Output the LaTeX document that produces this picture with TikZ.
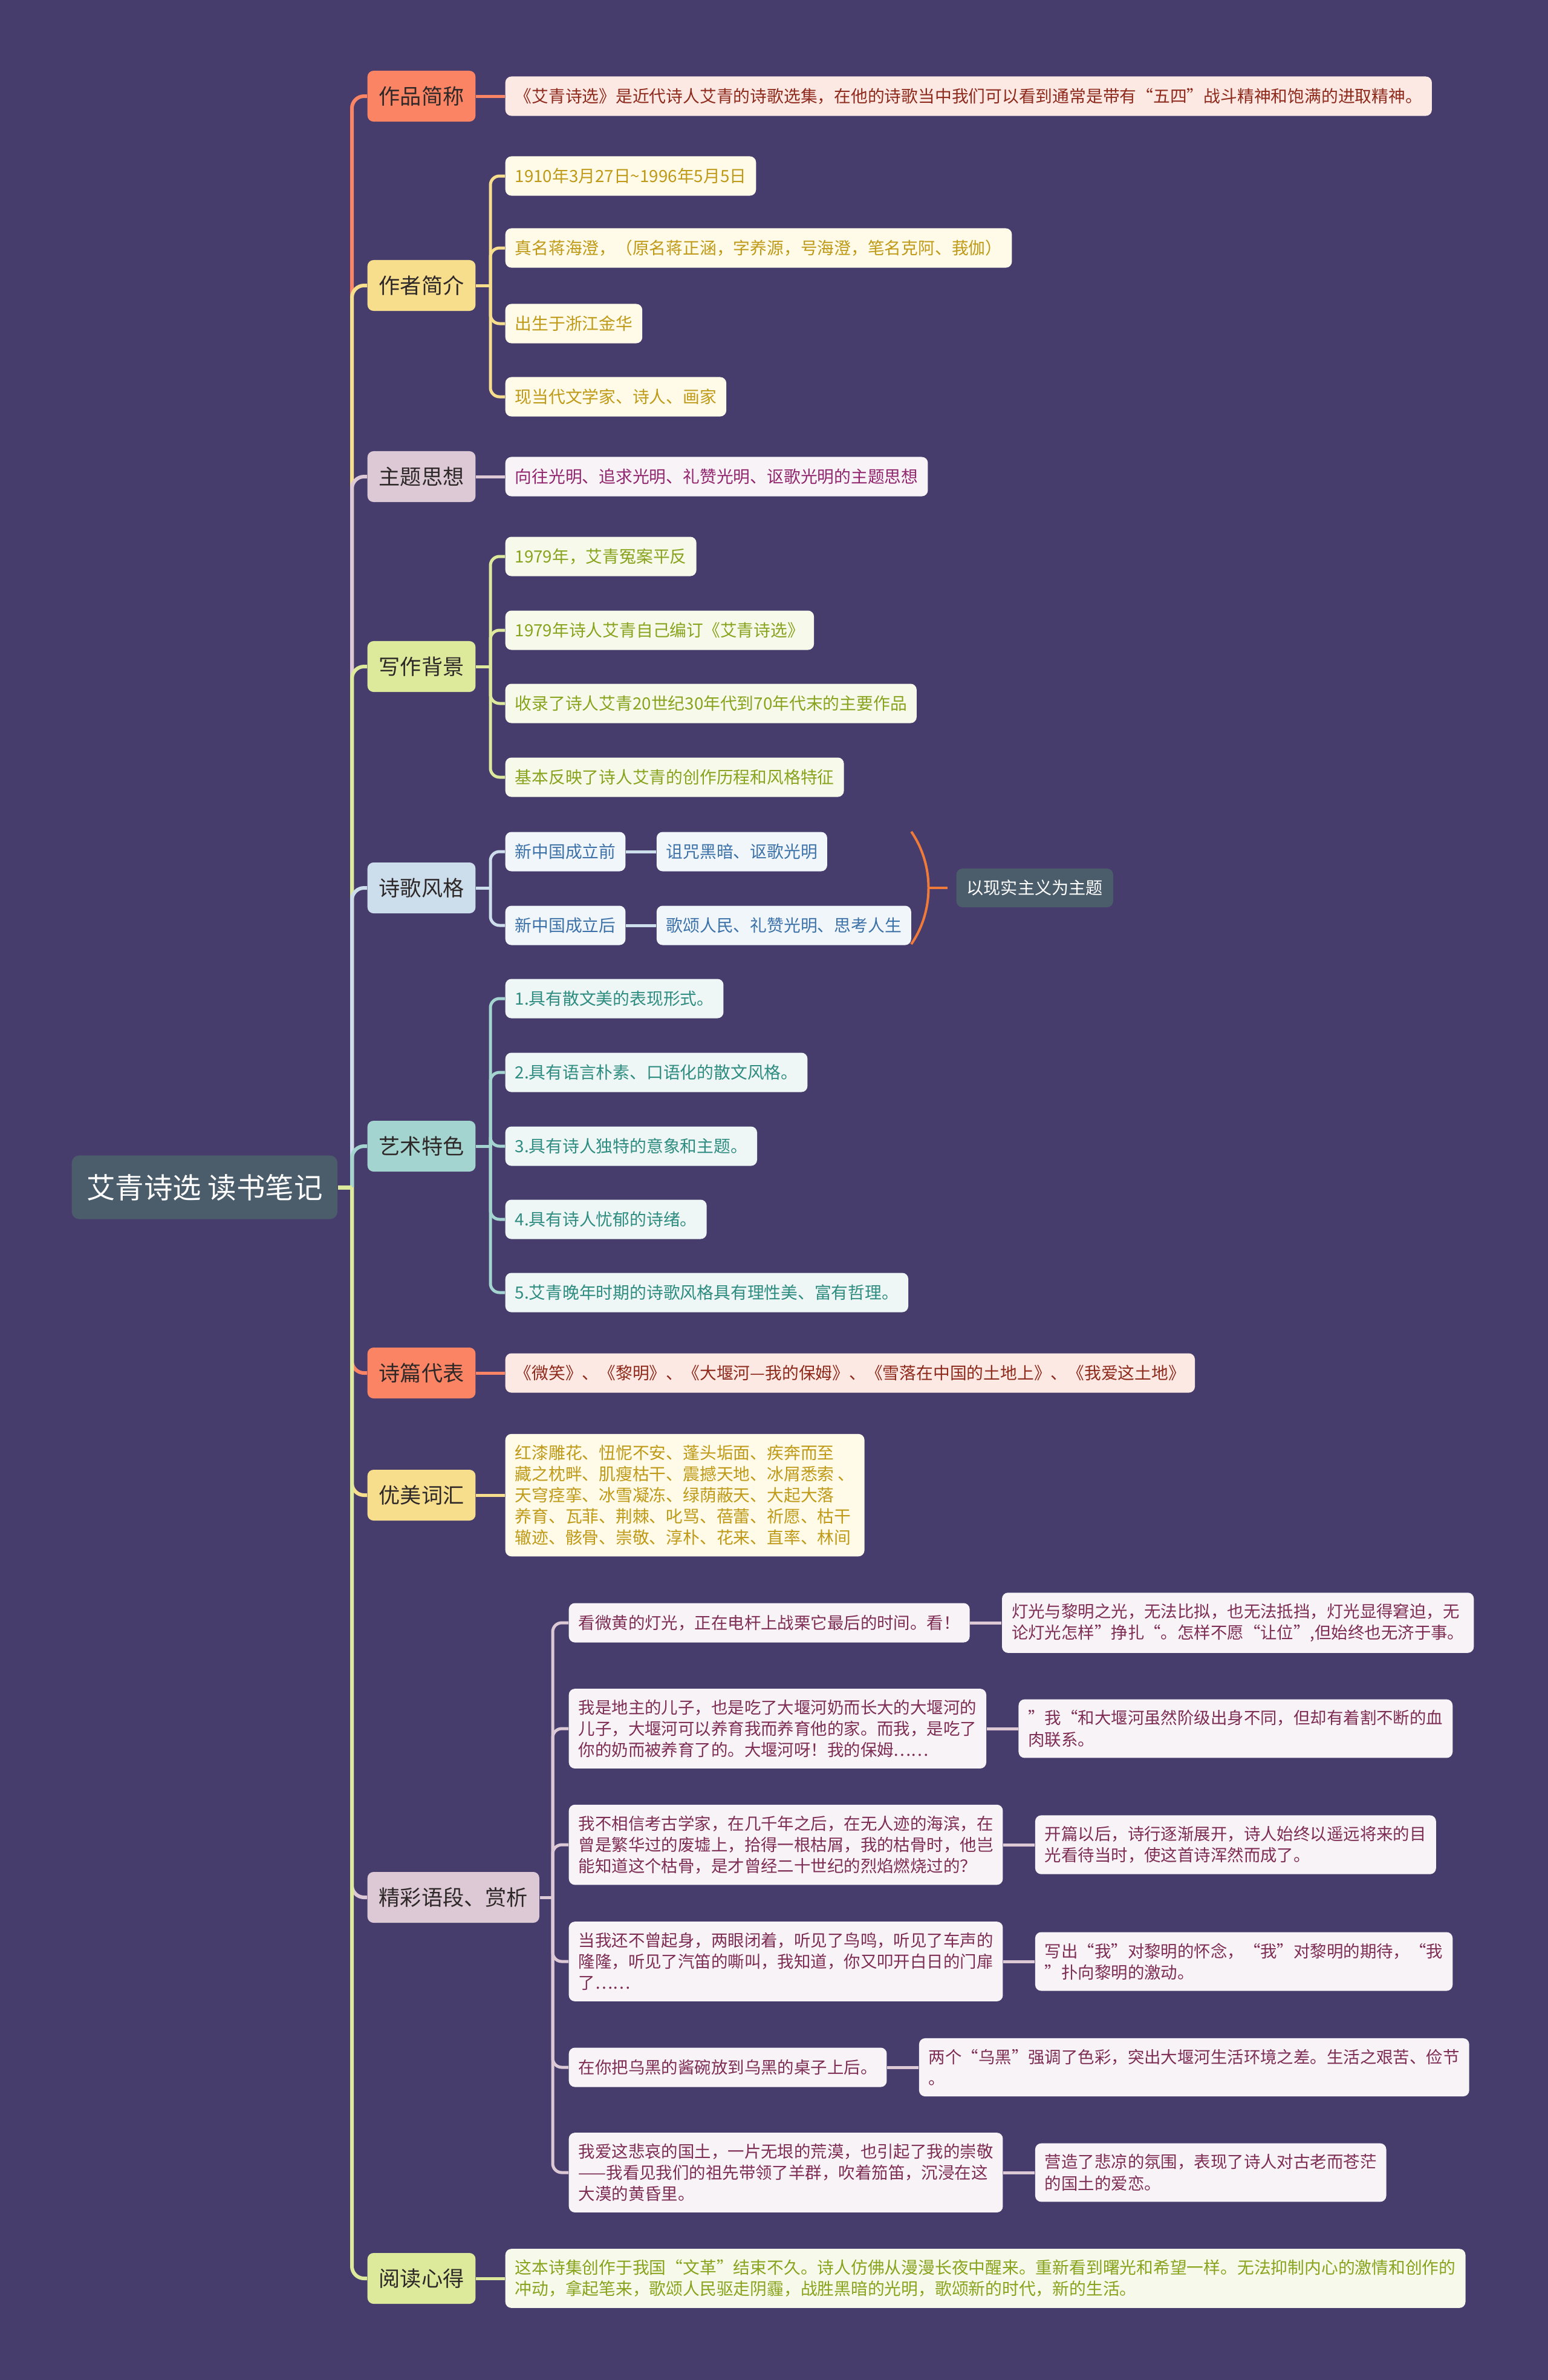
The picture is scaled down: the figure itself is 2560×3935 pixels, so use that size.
\documentclass[tikz,border=0pt]{standalone}
\usepackage{fontspec}
\setmainfont{Noto Sans CJK SC}
\usetikzlibrary{positioning}
\definecolor{bgcol}{HTML}{463D6D}
\definecolor{slate}{HTML}{4B5D6B}
\definecolor{coral}{HTML}{FA8463}
\definecolor{gold}{HTML}{F6DE8D}
\definecolor{mauve}{HTML}{DCC9D5}
\definecolor{lime}{HTML}{DDEA9B}
\definecolor{skyblue}{HTML}{CCDDEB}
\definecolor{teal}{HTML}{A3D4CF}
\definecolor{bracecol}{HTML}{F07A3A}
\definecolor{topictext}{HTML}{2E2828}
\definecolor{pinkfill}{HTML}{FDE9E4}
\definecolor{redtext}{HTML}{8E2A1C}
\definecolor{creamfill}{HTML}{FFFBE8}
\definecolor{goldtext}{HTML}{BF9A18}
\definecolor{plumfill}{HTML}{F8F3F6}
\definecolor{plumtext}{HTML}{7E2D55}
\definecolor{limefill}{HTML}{F7FAEA}
\definecolor{limetext}{HTML}{88A31E}
\definecolor{bluefill}{HTML}{F1F6FB}
\definecolor{bluetext}{HTML}{3D72A8}
\definecolor{tealfill}{HTML}{EEF7F5}
\definecolor{tealtext}{HTML}{2E8C80}

\begin{document}
\begin{tikzpicture}[x=0.01cm, y=-0.01cm,
	rootbox/.style={fill=slate, text=white, rounded corners=0.12cm, anchor=west, minimum width=4.39cm, minimum height=1.05cm, font=\fontsize{13.5}{15}\selectfont},
	topic/.style={fill=#1, text=topictext, rounded corners=0.1cm, anchor=west, inner xsep=0.19cm, minimum height=0.84cm, font=\fontsize{10}{12}\selectfont},
	leaf/.style={rounded corners=0.1cm, anchor=west, align=left, inner xsep=0.16cm, inner ysep=0.18cm, minimum height=0.65cm, font=\fontsize{7.9}{10}\selectfont},
	redleaf/.style={leaf, fill=pinkfill, text=redtext},
	goldleaf/.style={leaf, fill=creamfill, text=goldtext},
	plumleaf/.style={leaf, fill=plumfill, text=plumtext},
	limeleaf/.style={leaf, fill=limefill, text=limetext},
	blueleaf/.style={leaf, fill=bluefill, text=bluetext},
	tealleaf/.style={leaf, fill=tealfill, text=tealtext},
	quoteleaf/.style={plumleaf, font=\fontsize{7.8}{10}\selectfont},
	branch/.style={draw=#1, line width=0.06cm, rounded corners=0.2cm},
	twig/.style={draw=#1, line width=0.05cm, rounded corners=0.15cm}]

	% background and page size
	\fill[bgcol] (0,0) rectangle (2560,3935);
	\useasboundingbox (0,0) rectangle (2560,3935);

	% root
	\node[rootbox] (root) at (118,1963) {艾青诗选 读书笔记};
	\coordinate (trunk) at (582,1963);

	% main topics
	\node[topic=coral] (jc) at (607,159) {作品简称};
	\node[topic=gold] (zz) at (607,472) {作者简介};
	\node[topic=mauve] (zt) at (607,788) {主题思想};
	\node[topic=lime] (bj) at (607,1102) {写作背景};
	\node[topic=skyblue] (fg) at (607,1468) {诗歌风格};
	\node[topic=teal] (ts) at (607,1895) {艺术特色};
	\node[topic=coral] (db) at (607,2270) {诗篇代表};
	\node[topic=gold] (ch) at (607,2472) {优美词汇};
	\node[topic=mauve] (yd) at (607,3137) {精彩语段、赏析};
	\node[topic=lime] (xd) at (607,3767) {阅读心得};

	\draw[branch=coral] (trunk) |- (jc.west);
	\draw[branch=gold] (trunk) |- (zz.west);
	\draw[branch=mauve] (trunk) |- (zt.west);
	\draw[branch=lime] (trunk) |- (bj.west);
	\draw[branch=skyblue] (trunk) |- (fg.west);
	\draw[branch=teal] (trunk) |- (ts.west);
	\draw[branch=coral] (trunk) |- (db.west);
	\draw[branch=gold] (trunk) |- (ch.west);
	\draw[branch=mauve] (trunk) |- (yd.west);
	\draw[branch=lime] (trunk) |- (xd.west);
	\draw[lime, line width=0.07cm] (root.east) -- (trunk);

	% 作品简称
	\node[redleaf] (jc1) at (835,159) {《艾青诗选》是近代诗人艾青的诗歌选集，在他的诗歌当中我们可以看到通常是带有“五四”战斗精神和饱满的进取精神。};
	\draw[twig=coral] (jc.east) -- (jc1.west);

	% 作者简介
	\node[goldleaf] (zz1) at (835,291) {1910年3月27日\textasciitilde 1996年5月5日};
	\node[goldleaf] (zz2) at (835,410) {真名蒋海澄，（原名蒋正涵，字养源，号海澄，笔名克阿、莪伽）};
	\node[goldleaf] (zz3) at (835,535) {出生于浙江金华};
	\node[goldleaf] (zz4) at (835,656) {现当代文学家、诗人、画家};
	\coordinate (zzbus) at (811,472);
	\draw[twig=gold] (zz.east) -- (zzbus);
	\foreach \i in {1,...,4}
		\draw[twig=gold] (zzbus) |- (zz\i.west);

	% 主题思想
	\node[plumleaf, text=plumtext!85!magenta] (zt1) at (835,788) {向往光明、追求光明、礼赞光明、讴歌光明的主题思想};
	\draw[twig=mauve] (zt.east) -- (zt1.west);

	% 写作背景
	\node[limeleaf] (bj1) at (835,920) {1979年，艾青冤案平反};
	\node[limeleaf] (bj2) at (835,1042) {1979年诗人艾青自己编订《艾青诗选》};
	\node[limeleaf] (bj3) at (835,1163) {收录了诗人艾青20世纪30年代到70年代末的主要作品};
	\node[limeleaf] (bj4) at (835,1285) {基本反映了诗人艾青的创作历程和风格特征};
	\coordinate (bjbus) at (811,1102);
	\draw[twig=lime] (bj.east) -- (bjbus);
	\foreach \i in {1,...,4}
		\draw[twig=lime] (bjbus) |- (bj\i.west);

	% 诗歌风格
	\node[blueleaf] (fg1) at (835,1408) {新中国成立前};
	\node[blueleaf] (fg2) at (835,1530) {新中国成立后};
	\node[blueleaf, right=0.5cm of fg1] (fg1r) {诅咒黑暗、讴歌光明};
	\node[blueleaf, right=0.5cm of fg2] (fg2r) {歌颂人民、礼赞光明、思考人生};
	\coordinate (fgbus) at (811,1468);
	\draw[twig=skyblue] (fg.east) -- (fgbus);
	\draw[twig=skyblue] (fgbus) |- (fg1.west);
	\draw[twig=skyblue] (fgbus) |- (fg2.west);
	\draw[twig=skyblue] (fg1.east) -- (fg1r.west);
	\draw[twig=skyblue] (fg2.east) -- (fg2r.west);
	% summary brace
	\node[rootbox, minimum width=0cm, minimum height=0.64cm, inner xsep=0.17cm, rounded corners=0.1cm, font=\fontsize{8}{10}\selectfont] (fgsum) at (1581,1468) {以现实主义为主题};
	\coordinate (btop) at (1507,1375);
	\coordinate (bbot) at (1507,1561);
	\coordinate (bmid) at (1536,1468);
	\draw[bracecol, line width=0.04cm] (btop) .. controls (1545,1430) and (1545,1506) .. (bbot);
	\draw[bracecol, line width=0.04cm, shorten >=0.14cm] (bmid) -- (fgsum.west);

	% 艺术特色
	\node[tealleaf] (ts1) at (835,1651) {1.具有散文美的表现形式。};
	\node[tealleaf] (ts2) at (835,1773) {2.具有语言朴素、口语化的散文风格。};
	\node[tealleaf] (ts3) at (835,1895) {3.具有诗人独特的意象和主题。};
	\node[tealleaf] (ts4) at (835,2016) {4.具有诗人忧郁的诗绪。};
	\node[tealleaf] (ts5) at (835,2137) {5.艾青晚年时期的诗歌风格具有理性美、富有哲理。};
	\coordinate (tsbus) at (811,1895);
	\draw[twig=teal] (ts.east) -- (tsbus);
	\foreach \i in {1,...,5}
		\draw[twig=teal] (tsbus) |- (ts\i.west);

	% 诗篇代表
	\node[redleaf] (db1) at (835,2270) {《微笑》、《黎明》、《大堰河—我的保姆》、《雪落在中国的土地上》、《我爱这土地》};
	\draw[twig=coral] (db.east) -- (db1.west);

	% 优美词汇
	\node[goldleaf] (ch1) at (835,2472) {红漆雕花、忸怩不安、蓬头垢面、疾奔而至\\藏之枕畔、肌瘦枯干、震撼天地、冰屑悉索 、\\天穹痉挛、冰雪凝冻、绿荫蔽天、大起大落\\养育、瓦菲、荆棘、叱骂、蓓蕾、祈愿、枯干\\辙迹、骸骨、崇敬、淳朴、花来、直率、林间};
	\draw[twig=gold] (ch.east) -- (ch1.west);

	% 精彩语段、赏析
	\node[quoteleaf] (yd1) at (940,2683) {看微黄的灯光，正在电杆上战栗它最后的时间。看！};
	\node[quoteleaf] (yd2) at (940,2858) {我是地主的儿子，也是吃了大堰河奶而长大的大堰河的\\儿子，大堰河可以养育我而养育他的家。而我，是吃了\\你的奶而被养育了的。大堰河呀！我的保姆……};
	\node[quoteleaf] (yd3) at (940,3050) {我不相信考古学家，在几千年之后，在无人迹的海滨，在\\曾是繁华过的废墟上，拾得一根枯屑，我的枯骨时，他岂\\能知道这个枯骨，是才曾经二十世纪的烈焰燃烧过的？};
	\node[quoteleaf] (yd4) at (940,3243) {当我还不曾起身，两眼闭着，听见了鸟鸣，听见了车声的\\隆隆，听见了汽笛的嘶叫，我知道，你又叩开白日的门扉\\了……};
	\node[quoteleaf] (yd5) at (940,3418) {在你把乌黑的酱碗放到乌黑的桌子上后。};
	\node[quoteleaf] (yd6) at (940,3592) {我爱这悲哀的国土，一片无垠的荒漠，也引起了我的崇敬\\——我看见我们的祖先带领了羊群，吹着笳笛，沉浸在这\\大漠的黄昏里。};
	\node[quoteleaf, right=0.52cm of yd1] (yd1r) {灯光与黎明之光，无法比拟，也无法抵挡，灯光显得窘迫，无\\论灯光怎样”挣扎“。怎样不愿“让位”,但始终也无济于事。};
	\node[quoteleaf, right=0.52cm of yd2] (yd2r) {”我“和大堰河虽然阶级出身不同，但却有着割不断的血\\肉联系。};
	\node[quoteleaf, right=0.52cm of yd3] (yd3r) {开篇以后，诗行逐渐展开，诗人始终以遥远将来的目\\光看待当时，使这首诗浑然而成了。};
	\node[quoteleaf, right=0.52cm of yd4] (yd4r) {写出“我”对黎明的怀念，“我”对黎明的期待，“我\\”扑向黎明的激动。};
	\node[quoteleaf, right=0.52cm of yd5] (yd5r) {两个“乌黑”强调了色彩，突出大堰河生活环境之差。生活之艰苦、俭节\\。};
	\node[quoteleaf, right=0.52cm of yd6] (yd6r) {营造了悲凉的氛围，表现了诗人对古老而苍茫\\的国土的爱恋。};
	\coordinate (ydbus) at (914,3137);
	\draw[twig=mauve] (yd.east) -- (ydbus);
	\foreach \i in {1,...,6} {
		\draw[twig=mauve] (ydbus) |- (yd\i.west);
		\draw[twig=mauve] (yd\i.east) -- (yd\i r.west);
	}

	% 阅读心得
	\node[limeleaf] (xd1) at (835,3767) {这本诗集创作于我国“文革”结束不久。诗人仿佛从漫漫长夜中醒来。重新看到曙光和希望一样。无法抑制内心的激情和创作的\\冲动，拿起笔来，歌颂人民驱走阴霾，战胜黑暗的光明，歌颂新的时代，新的生活。};
	\draw[twig=lime] (xd.east) -- (xd1.west);
\end{tikzpicture}
\end{document}
